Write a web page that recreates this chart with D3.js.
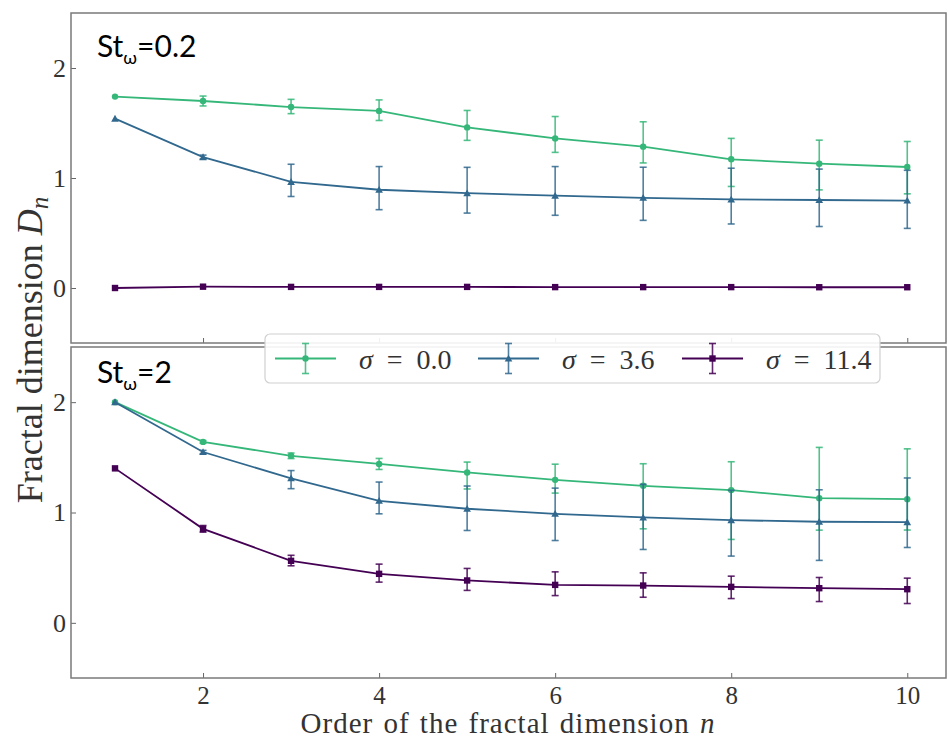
<!DOCTYPE html>
<html>
<head>
<meta charset="utf-8">
<script src="https://cdn.jsdelivr.net/npm/d3@7"></script>
<style>
  html, body { margin: 0; padding: 0; background: #fff; }
  svg { display: block; }
</style>
</head>
<body>
<svg id="chart" width="948" height="739"></svg>
<script>
// ---------------- data ----------------
const orders = [1, 2, 3, 4, 5, 6, 7, 8, 9, 10];
const xTicks = [2, 4, 6, 8, 10];
const yTicks = [0, 1, 2];
const sigmaLabels = ["0.0", "3.6", "11.4"];
const panelLabels = ["0.2", "2"];

// Panel 1: St_omega = 0.2
const top_s00 = [1.74, 1.70, 1.645, 1.61, 1.46, 1.36, 1.285, 1.17, 1.13, 1.10];
const top_s00_lo = [0.0, 0.045, 0.06, 0.087, 0.118, 0.127, 0.148, 0.247, 0.238, 0.244];
const top_s00_hi = [0.0, 0.045, 0.07, 0.10, 0.154, 0.199, 0.226, 0.19, 0.214, 0.232];
const top_s36 = [1.54, 1.19, 0.965, 0.893, 0.862, 0.839, 0.82, 0.805, 0.80, 0.795];
const top_s36_lo = [0.0, 0.018, 0.133, 0.181, 0.181, 0.178, 0.205, 0.223, 0.241, 0.253];
const top_s36_hi = [0.0, 0.018, 0.16, 0.211, 0.235, 0.265, 0.278, 0.284, 0.281, 0.275];
const top_s114 = [0.0, 0.012, 0.01, 0.01, 0.01, 0.008, 0.008, 0.008, 0.007, 0.007];
const top_s114_lo = [0, 0, 0, 0, 0, 0, 0, 0, 0, 0];
const top_s114_hi = [0, 0, 0, 0, 0, 0, 0, 0, 0, 0];

// Panel 2: St_omega = 2
const bot_s00 = [2.0, 1.64, 1.514, 1.44, 1.363, 1.296, 1.242, 1.203, 1.13, 1.121];
const bot_s00_lo = [0, 0.012, 0.025, 0.05, 0.15, 0.12, 0.39, 0.447, 0.29, 0.28];
const bot_s00_hi = [0, 0.012, 0.025, 0.05, 0.094, 0.142, 0.2, 0.257, 0.46, 0.456];
const bot_s36 = [2.0, 1.548, 1.31, 1.106, 1.034, 0.988, 0.955, 0.931, 0.916, 0.913];
const bot_s36_lo = [0, 0.015, 0.094, 0.118, 0.197, 0.242, 0.29, 0.326, 0.35, 0.23];
const bot_s36_hi = [0, 0.015, 0.07, 0.17, 0.206, 0.233, 0.3, 0.27, 0.29, 0.40];
const bot_s114 = [1.40, 0.852, 0.562, 0.444, 0.384, 0.344, 0.338, 0.326, 0.314, 0.305];
const bot_s114_lo = [0, 0.03, 0.045, 0.075, 0.09, 0.097, 0.106, 0.106, 0.121, 0.13];
const bot_s114_hi = [0, 0.03, 0.05, 0.088, 0.109, 0.118, 0.115, 0.097, 0.097, 0.1];

const colors = ["#35b779", "#31688e", "#440154"];
const markers = ["circle", "triangle", "square"];

// ---------------- layout ----------------
const svg = d3.select("#chart");
const serif = "'Liberation Serif', 'Times New Roman', serif";
const sans = "Lato, 'Open Sans', sans-serif";
const plotLeft = 71, plotRight = 946;
const panels = [
  { top: 13, bottom: 343, label: panelLabels[0], labelY: 57,
    series: [[top_s00, top_s00_lo, top_s00_hi], [top_s36, top_s36_lo, top_s36_hi], [top_s114, top_s114_lo, top_s114_hi]],
    showXLabels: false },
  { top: 347, bottom: 678, label: panelLabels[1], labelY: 383,
    series: [[bot_s00, bot_s00_lo, bot_s00_hi], [bot_s36, bot_s36_lo, bot_s36_hi], [bot_s114, bot_s114_lo, bot_s114_hi]],
    showXLabels: true }
];

const x = d3.scaleLinear().domain([0.5, 10.44]).range([plotLeft, plotRight]);

function drawMarker(g, type, cx, cy, color) {
  if (type === "circle") {
    g.append("circle").attr("cx", cx).attr("cy", cy).attr("r", 3.2).attr("fill", color);
  } else if (type === "triangle") {
    const s = 3.8;
    g.append("path")
      .attr("d", `M${cx},${cy - s} L${cx + s},${cy + s * 0.8} L${cx - s},${cy + s * 0.8} Z`)
      .attr("fill", color);
  } else {
    const s = 3.2;
    g.append("rect").attr("x", cx - s).attr("y", cy - s).attr("width", 2 * s).attr("height", 2 * s).attr("fill", color);
  }
}

panels.forEach((p, pi) => {
  const y = d3.scaleLinear().domain([-0.5, 2.5]).range([p.bottom, p.top]);
  const g = svg.append("g");

  g.append("rect").attr("x", plotLeft).attr("y", p.top)
    .attr("width", plotRight - plotLeft).attr("height", p.bottom - p.top).attr("fill", "#fff");

  const ya = g.append("g").attr("transform", `translate(${plotLeft},0)`)
    .call(d3.axisLeft(y).tickValues(yTicks).tickFormat(d3.format("d")).tickSize(-5).tickPadding(5));
  ya.select(".domain").remove();
  ya.selectAll(".tick line").attr("stroke", "#666").attr("stroke-width", 1);
  ya.selectAll(".tick text").attr("font-family", serif).attr("font-size", 26).attr("fill", "#333");

  const xa = g.append("g").attr("transform", `translate(0,${p.bottom})`)
    .call(d3.axisBottom(x).tickValues(xTicks).tickFormat(p.showXLabels ? d3.format("d") : () => "").tickSize(-5).tickPadding(8));
  xa.select(".domain").remove();
  xa.selectAll(".tick line").attr("stroke", "#666").attr("stroke-width", 1);
  xa.selectAll(".tick text").attr("font-family", serif).attr("font-size", 25).attr("fill", "#333");

  p.series.forEach((s, si) => {
    const [vals, lo, hi] = s;
    const col = colors[si];
    const sg = g.append("g");
    const line = d3.line().x((d, i) => x(orders[i])).y(d => y(d));
    sg.append("path").datum(vals).attr("d", line)
      .attr("fill", "none").attr("stroke", col).attr("stroke-width", 1.8);
    vals.forEach((v, i) => {
      if (lo[i] === 0 && hi[i] === 0) return;
      const cx = x(orders[i]);
      const y1 = y(v - lo[i]), y2 = y(v + hi[i]);
      sg.append("line").attr("x1", cx).attr("x2", cx).attr("y1", y1).attr("y2", y2)
        .attr("stroke", col).attr("stroke-width", 1.6).attr("stroke-opacity", 0.85);
      [y1, y2].forEach(yy => {
        sg.append("line").attr("x1", cx - 3.5).attr("x2", cx + 3.5).attr("y1", yy).attr("y2", yy)
          .attr("stroke", col).attr("stroke-width", 1.6).attr("stroke-opacity", 0.85);
      });
    });
    vals.forEach((v, i) => drawMarker(sg, markers[si], x(orders[i]), y(v), col));
  });

  g.append("rect").attr("x", plotLeft).attr("y", p.top)
    .attr("width", plotRight - plotLeft).attr("height", p.bottom - p.top)
    .attr("fill", "none").attr("stroke", "#7a7a7a").attr("stroke-width", 1.5);

  const t = g.append("text").attr("x", 97).attr("y", p.labelY)
    .attr("font-family", sans).attr("font-size", 30).attr("fill", "#000");
  t.append("tspan").text("St");
  t.append("tspan").attr("font-size", 18).attr("dy", 7).text("ω");
  t.append("tspan").attr("dy", -7).text("=" + p.label);
});

// ---------------- legend ----------------
const lg = svg.append("g");
lg.append("rect").attr("x", 265).attr("y", 334).attr("width", 615).attr("height", 49)
  .attr("rx", 5).attr("fill", "#fff").attr("fill-opacity", 0.9)
  .attr("stroke", "#d0d0d0").attr("stroke-width", 1.2);
const legendX = [275, 478, 682];
sigmaLabels.forEach((lab, i) => {
  const x0 = legendX[i], cy = 358.5, col = colors[i];
  lg.append("line").attr("x1", x0).attr("x2", x0 + 61).attr("y1", cy).attr("y2", cy)
    .attr("stroke", col).attr("stroke-width", 1.8);
  const cx = x0 + 30.5;
  lg.append("line").attr("x1", cx).attr("x2", cx).attr("y1", cy - 15).attr("y2", cy + 15)
    .attr("stroke", col).attr("stroke-width", 1.6).attr("stroke-opacity", 0.85);
  [cy - 15, cy + 15].forEach(yy => lg.append("line").attr("x1", cx - 3.5).attr("x2", cx + 3.5)
    .attr("y1", yy).attr("y2", yy).attr("stroke", col).attr("stroke-width", 1.6).attr("stroke-opacity", 0.85));
  drawMarker(lg, markers[i], cx, cy, col);
  const t = lg.append("text").attr("x", x0 + 84).attr("y", cy + 10)
    .attr("font-family", serif).attr("font-size", 28).attr("fill", "#333")
    .attr("xml:space", "preserve");
  t.append("tspan").attr("font-style", "italic").text("σ");
  t.append("tspan").text("  =  " + lab);
});

// ---------------- axis titles ----------------
const xt = svg.append("text").attr("x", 508).attr("y", 733).attr("text-anchor", "middle")
  .attr("font-family", serif).attr("font-size", 29).attr("fill", "#333")
  .attr("letter-spacing", 1).attr("word-spacing", 2);
xt.append("tspan").text("Order of the fractal dimension ");
xt.append("tspan").attr("font-style", "italic").text("n");

const yt = svg.append("text").attr("transform", "translate(42,350) rotate(-90)")
  .attr("text-anchor", "middle").attr("font-family", serif).attr("font-size", 36).attr("fill", "#333");
yt.append("tspan").text("Fractal dimension ");
yt.append("tspan").attr("font-style", "italic").text("D");
yt.append("tspan").attr("font-style", "italic").attr("font-size", 25).attr("dy", 6).text("n");
</script>
</body>
</html>
